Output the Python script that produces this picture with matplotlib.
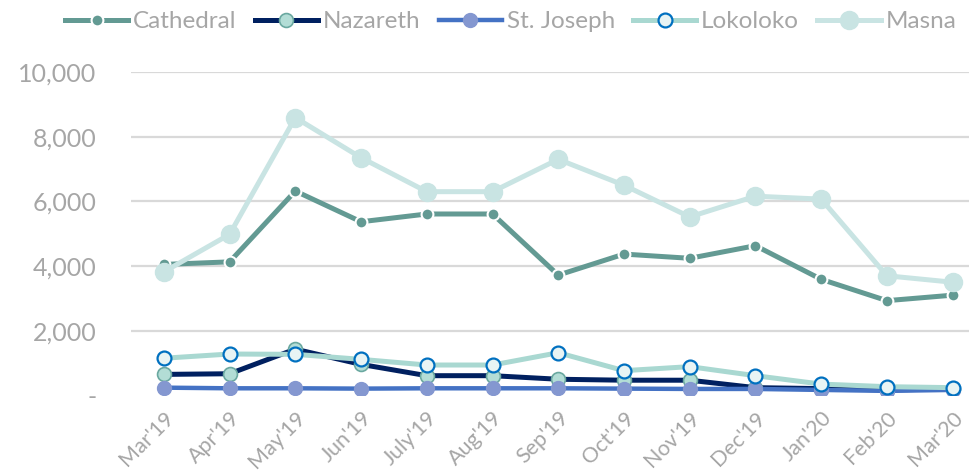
import numpy as np
import matplotlib
matplotlib.use("Agg")
import matplotlib.pyplot as plt

plt.rcParams['font.family'] = ['Lato', 'DejaVu Sans']

# Data
months = ["Mar'19", "Apr'19", "May'19", "Jun'19", "July'19", "Aug'19", "Sep'19",
          "Oct'19", "Nov'19", "Dec'19", "Jan'20", "Feb'20", "Mar'20"]
cathedral = [4050, 4130, 6320, 5370, 5610, 5610, 3720, 4370, 4240, 4630, 3590, 2930, 3100]
nazareth = [650, 670, 1430, 960, 610, 610, 500, 470, 470, 240, 210, 170, 200]
st_joseph = [240, 220, 220, 210, 220, 220, 220, 210, 200, 200, 170, 140, 170]
lokoloko = [1150, 1280, 1270, 1115, 940, 940, 1320, 765, 890, 610, 350, 270, 240]
masna = [3820, 4980, 8590, 7350, 6300, 6300, 7300, 6500, 5520, 6160, 6070, 3700, 3500]

yticks = [0, 2000, 4000, 6000, 8000, 10000]
ytick_labels = ["-", "2,000", "4,000", "6,000", "8,000", "10,000"]

grey = '#a6a6a6'

fig = plt.figure(figsize=(9.69, 4.76), dpi=100)
ax = fig.add_axes([131 / 969, 0.1693, 854.5 / 969, 0.6794])

x = np.arange(len(months))

ax.plot(x, cathedral, color='#639a93', lw=3.6, marker='o', ms=8.5,
        mfc='#639a93', mec='white', mew=1.5, label='Cathedral', zorder=3)
ax.plot(x, nazareth, color='#002060', lw=3.6, marker='o', ms=10,
        mfc='#b3ddd6', mec='#6aa8a0', mew=1.2, label='Nazareth', zorder=4)
ax.plot(x, st_joseph, color='#4472c4', lw=3.2, marker='o', ms=10,
        mfc='#8497d0', mec='#8497d0', mew=1, label='St. Joseph', zorder=5)
ax.plot(x, lokoloko, color='#a9d8d1', lw=3.6, marker='o', ms=10,
        mfc='#e8f4f4', mec='#0070c0', mew=1.6, label='Lokoloko', zorder=6)
ax.plot(x, masna, color='#c9e4e3', lw=3.6, marker='o', ms=13,
        mfc='#c9e4e3', mec='#c9e4e3', label='Masna', zorder=7)

ax.set_xlim(-0.5, len(months) - 0.5)
ax.set_ylim(0, 10000)
ax.set_yticks(yticks)
ax.set_yticklabels(ytick_labels)
ax.set_xticks(x)
ax.set_xticklabels(months, rotation=45, ha='right', rotation_mode='anchor')

for s in ax.spines.values():
    s.set_visible(False)
ax.tick_params(axis='both', length=0, colors=grey)
ax.tick_params(axis='y', labelsize=18, pad=25)
ax.tick_params(axis='x', labelsize=15.5, pad=9)
for gy in yticks[1:]:
    ax.axhline(gy, color='#d9d9d9', lw=1.6, zorder=1)

leg = fig.legend(loc='upper center', bbox_to_anchor=(0.527, 1.022), ncol=5,
                 frameon=False, fontsize=17.5, handlelength=2.6,
                 columnspacing=0.75, handletextpad=0.2, labelcolor=grey)

fig.savefig('out.png', dpi=100)
